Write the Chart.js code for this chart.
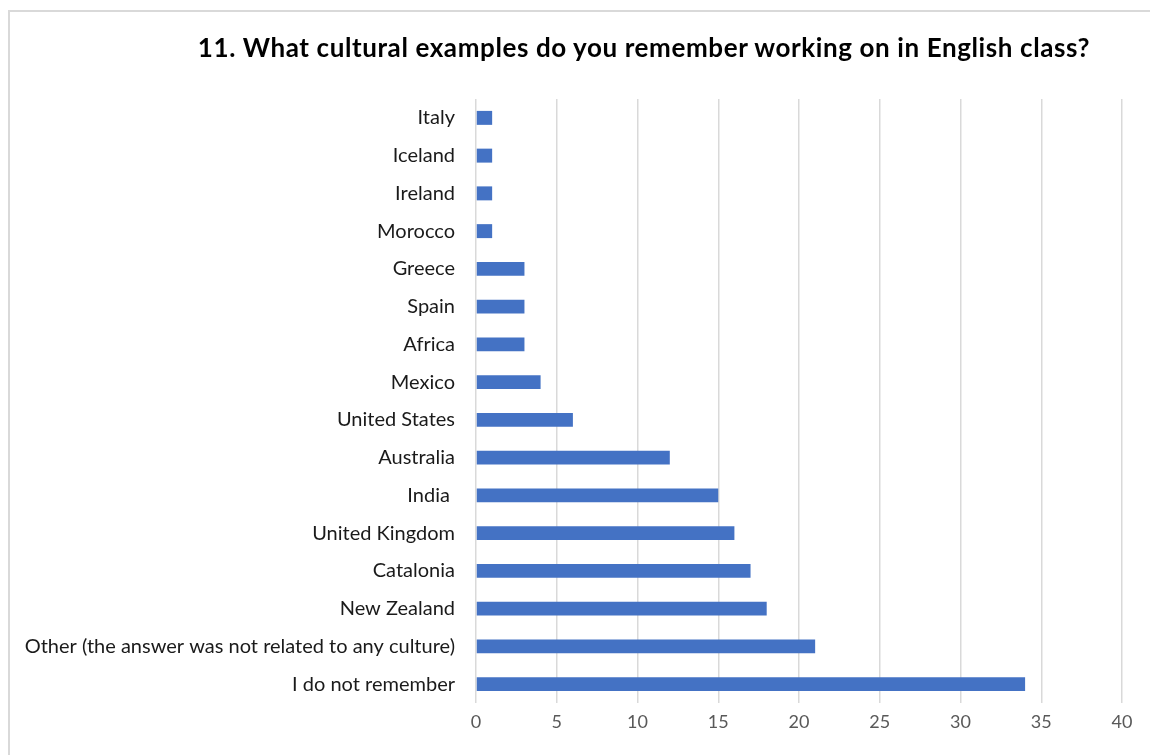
<!DOCTYPE html>
<html>
<head>
<meta charset="utf-8">
<script src="https://cdn.jsdelivr.net/npm/chart.js@4.4.0/dist/chart.umd.min.js"></script>
<style>
  html, body { margin: 0; padding: 0; background: #fff; overflow: hidden; }
  #wrap { position: relative; width: 1150px; height: 755px; }
  #frame {
    position: absolute; left: 8px; top: 10px; width: 1300px; height: 900px;
    border: 2px solid #d9d9d9; box-sizing: border-box;
  }
  #title {
    position: absolute; left: 100px; width: 1088px; top: 34px;
    text-align: center; font: bold 26px/26px Lato, sans-serif; color: #000;
    letter-spacing: 0.6px; white-space: nowrap;
  }
  #chart { position: absolute; left: 0; top: 0; }
</style>
</head>
<body>
<div id="wrap">
  <div id="frame"></div>
  <canvas id="chart" width="1150" height="755"></canvas>
  <div id="title">11. What cultural examples do you remember working on in English class?</div>
</div>
<script>
// ------------------------------------------------------------
//  Datos
// ------------------------------------------------------------
const categories = [
  'Italy', 'Iceland', 'Ireland', 'Morocco', 'Greece', 'Spain', 'Africa', 'Mexico',
  'United States', 'Australia', 'India ', 'United Kingdom', 'Catalonia', 'New Zealand',
  'Other (the answer was not related to any culture)', 'I do not remember'
]
const answers = [1, 1, 1, 1, 3, 3, 3, 4, 6, 12, 15, 16, 17, 18, 21, 34]
const xMin  = 0
const xMax  = 40
const xStep = 5

// ------------------------------------------------------------
//  Gráfico
// ------------------------------------------------------------
const ctx = document.getElementById('chart').getContext('2d')

new Chart(ctx, {
  type: 'bar',
  data: {
    labels: categories,
    datasets: [{
      data:               answers,
      backgroundColor:    '#4472c4',
      borderWidth:        0,
      categoryPercentage: 1,
      barPercentage:      0.37,
    }]
  },
  options: {
    indexAxis:  'y',
    responsive: false,
    animation:  false,
    layout: { padding: { left: 0, top: 99, right: 28, bottom: 0 } },
    plugins: {
      legend:  { display: false },
      tooltip: { enabled: false },
    },
    scales: {
      x: {
        min: xMin, max: xMax,
        ticks:  { stepSize: xStep, color: '#595959', padding: 8,
                  font: { family: 'Lato', size: 18 } },
        grid:   { color: '#d9d9d9', lineWidth: 1.5, drawTicks: false },
        border: { display: false },
        afterFit: s => { s.height = 52 },
      },
      y: {
        ticks:  { color: '#1a1a1a', padding: 21, autoSkip: false,
                  font: { family: 'Lato', size: 20 } },
        grid:   { display: false, drawTicks: false },
        border: { display: false },
        afterFit: s => { s.width = 476 },
      }
    }
  }
})
</script>
</body>
</html>
